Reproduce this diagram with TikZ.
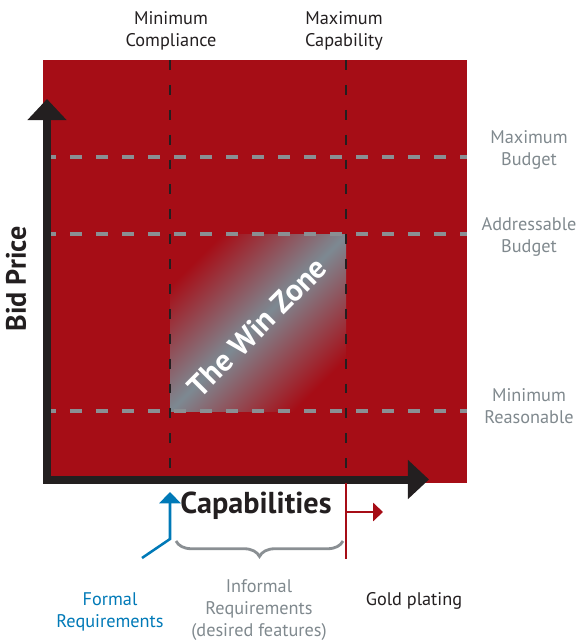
\documentclass[tikz,border=0pt]{standalone}
\usepackage{fontspec}
\setmainfont{PT Sans}
\usetikzlibrary{arrows.meta}
\usetikzlibrary{decorations.pathreplacing}
\usetikzlibrary{positioning}

\definecolor{bidred}{RGB}{166,13,22}
\definecolor{zonegray}{RGB}{125,137,146}
\definecolor{dashgray}{RGB}{138,143,147}
\definecolor{txtgray}{RGB}{128,137,142}
\definecolor{reqblue}{RGB}{0,121,183}
\definecolor{inkblack}{RGB}{35,31,32}

\begin{document}
\begin{tikzpicture}[x=0.025cm,y=-0.025cm,
    lbl/.style={align=center,text=inkblack,font=\fontsize{13}{15.6}\selectfont},
    graylbl/.style={lbl,text=txtgray},
    axis/.style={line width=5.7pt,draw=inkblack,line join=miter,
      {Triangle[length=15pt,width=27pt]}-{Triangle[length=15pt,width=27pt]}},
    capline/.style={line width=2.1pt,draw=inkblack,dash pattern=on 7pt off 10.7pt},
    budgetline/.style={line width=2.2pt,draw=dashgray,dash pattern=on 8.5pt off 10pt,dash phase=5pt}]
  \useasboundingbox (0,0) rectangle (579,641);

  % background and win zone
  \fill[bidred] (43,60) rectangle (467,483);
  \shade[top color=bidred,bottom color=bidred,middle color=zonegray,shading angle=45]
    (170,234) rectangle (346,411);

  % budget and capability levels
  \foreach \y in {157,234,411}
    \draw[budgetline] (51,\y) -- (467,\y);
  \foreach \x in {170,346}
    \draw[capline] (\x,60) -- (\x,483);

  \node[rotate=45,text=white,font=\fontsize{22}{26}\selectfont\bfseries] (winzone) at (257,327) {The Win Zone};

  % axes
  \coordinate (origin) at (47,479.5);
  \coordinate (ytop) at (47,99);
  \coordinate (xend) at (429,479.5);
  \draw[axis] (ytop) -- (origin) -- (xend);
  \node[rotate=90,text=inkblack,font=\fontsize{20}{24}\selectfont\bfseries] (bidprice) at (16,279) {Bid Price};
  \node[text=inkblack,font=\fontsize{21.5}{25}\selectfont\bfseries] (capab) at (256,506) {Capabilities};

  % labels
  \node[lbl] (minc) at (171,31) {Minimum\\Compliance};
  \node[lbl] (maxc) at (344,31) {Maximum\\Capability};
  \node[graylbl] (maxb) at (529,150) {Maximum\\Budget};
  \node[graylbl] (addb) at (529,237) {Addressable\\Budget};
  \node[graylbl] (minr) at (529,406) {Minimum\\Reasonable};

  % formal requirements
  \coordinate (fbase) at (142,558);
  \coordinate (fknee) at (170,539);
  \coordinate (ftip) at (170,492);
  \draw[reqblue,line width=1.8pt,-{Triangle[length=8pt,width=15pt]}] (fbase) -- (fknee) -- (ftip);
  \node[lbl,text=reqblue] (formal) at (110,612) {Formal\\Requirements};

  % informal requirements
  \coordinate (bleft) at (176,541);
  \coordinate (bright) at (343,541);
  \draw[dashgray,line width=2pt,decorate,decoration={brace,mirror,amplitude=11pt}] (bleft) -- (bright);
  \node[graylbl] (informal) at (259,610) {Informal\\Requirements\\(desired features)};

  % gold plating
  \coordinate (gtop) at (346,483);
  \coordinate (gbot) at (346,559);
  \coordinate (gfrom) at (346,512);
  \coordinate (gto) at (383,512);
  \draw[bidred,line width=2pt] (gtop) -- (gbot);
  \draw[bidred,line width=1.1pt,-{Triangle[length=7pt,width=13pt]}] (gfrom) -- (gto);
  \node[lbl] (gold) at (414,601) {Gold plating};
\end{tikzpicture}
\end{document}
